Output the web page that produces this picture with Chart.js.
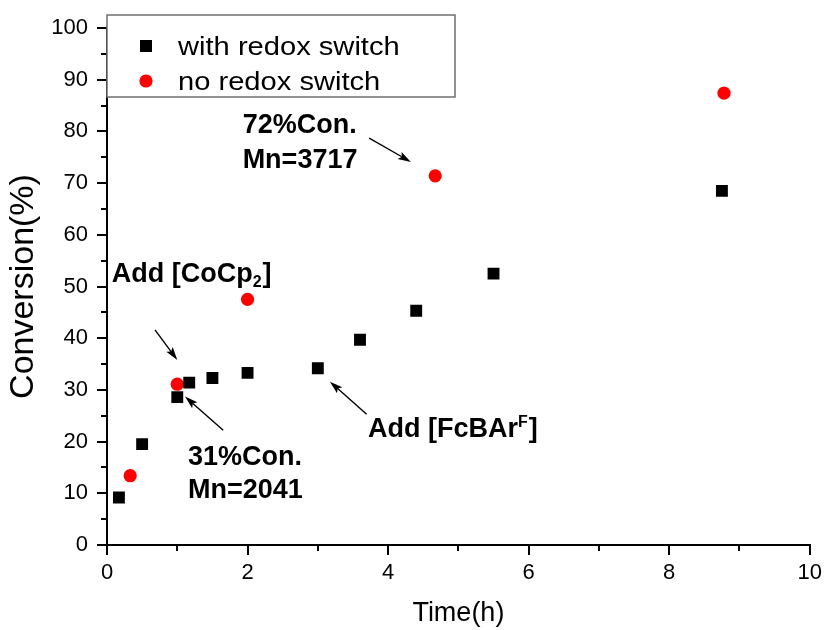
<!DOCTYPE html>
<html>
<head>
<meta charset="utf-8">
<script src="https://cdn.jsdelivr.net/npm/chart.js@4.4.1/dist/chart.umd.min.js"></script>
<style>
  html, body { margin: 0; padding: 0; background: #fff; }
  #wrap { width: 827px; height: 630px; }
</style>
</head>
<body>
<div id="wrap"><canvas id="chart" width="827" height="630"></canvas></div>
<script>
// data
const withX = [0.17, 0.5, 1.0, 1.17, 1.5, 2.0, 3.0, 3.6, 4.4, 5.5, 8.75];
const withY = [9.2, 19.5, 28.6, 31.4, 32.3, 33.3, 34.2, 39.7, 45.3, 52.5, 68.5];
const noX = [0.33, 1.0, 2.0, 4.67, 8.78];
const noY = [13.4, 31.1, 47.5, 71.4, 87.4];
const xTicks = [0, 2, 4, 6, 8, 10];
const yTicks = [0, 10, 20, 30, 40, 50, 60, 70, 80, 90, 100];
const seriesNames = ['with redox switch', 'no redox switch'];

// annotations (data coords), pieces: 0 normal, -1 subscript, 1 superscript
const noteParts = [
  [['Add [CoCp', 0], ['2', -1], [']', 0]],
  [['31%Con.', 0]],
  [['Mn=2041', 0]],
  [['Add [FcBAr', 0], ['F', 1], [']', 0]],
  [['72%Con.', 0]],
  [['Mn=3717', 0]]
];
const noteX = [0.067, 1.152, 1.152, 3.713, 1.93, 1.93];
const noteY = [50.9, 15.5, 9.1, 20.9, 79.6, 73.0];
const arrowFromX = [0.683, 1.654, 3.694, 3.731];
const arrowFromY = [41.6, 22.2, 25.3, 78.7];
const arrowToX = [1.0, 1.11, 3.172, 4.324];
const arrowToY = [35.8, 28.7, 31.6, 74.1];

const FONT = "'Liberation Sans', Arial, sans-serif";

const toPoints = (xs, ys) => xs.map((x, i) => ({ x: x, y: ys[i] }));

// minor ticks, annotations, legend box
const extras = {
  id: 'extras',
  afterDraw(chart) {
    const ctx = chart.ctx;
    const xs = chart.scales.x, ys = chart.scales.y;
    const area = chart.chartArea;
    ctx.save();
    ctx.strokeStyle = '#000';
    ctx.lineWidth = 2;
    ctx.beginPath();
    for (let v = 1; v < 10; v += 2) {
      const px = Math.round(xs.getPixelForValue(v));
      ctx.moveTo(px, area.bottom);
      ctx.lineTo(px, area.bottom + 6);
    }
    for (let v = 5; v < 100; v += 10) {
      const py = Math.round(ys.getPixelForValue(v));
      ctx.moveTo(area.left, py);
      ctx.lineTo(area.left - 6, py);
    }
    ctx.stroke();

    // text notes
    ctx.fillStyle = '#000';
    ctx.textBaseline = 'alphabetic';
    ctx.textAlign = 'left';
    noteParts.forEach((parts, i) => {
      let px = xs.getPixelForValue(noteX[i]);
      const py = ys.getPixelForValue(noteY[i]);
      parts.forEach(p => {
        const kind = p[1];
        ctx.font = 'bold ' + (kind === 0 ? 27 : 16) + 'px ' + FONT;
        const dy = kind === -1 ? 5 : (kind === 1 ? -10 : 0);
        ctx.fillText(p[0], px, py + dy);
        px += ctx.measureText(p[0]).width + (kind !== 0 ? 1 : 0);
      });
    });

    // arrows
    arrowFromX.forEach((fx, i) => {
      const x1 = xs.getPixelForValue(fx), y1 = ys.getPixelForValue(arrowFromY[i]);
      const x2 = xs.getPixelForValue(arrowToX[i]), y2 = ys.getPixelForValue(arrowToY[i]);
      const a = Math.atan2(y2 - y1, x2 - x1);
      const hl = 13, hw = 4;
      ctx.lineWidth = 1.4;
      ctx.beginPath();
      ctx.moveTo(x1, y1);
      ctx.lineTo(x2 - Math.cos(a) * hl * 0.8, y2 - Math.sin(a) * hl * 0.8);
      ctx.stroke();
      ctx.beginPath();
      ctx.moveTo(x2, y2);
      ctx.lineTo(x2 - Math.cos(a) * hl - Math.sin(a) * hw, y2 - Math.sin(a) * hl + Math.cos(a) * hw);
      ctx.lineTo(x2 - Math.cos(a) * hl * 0.8, y2 - Math.sin(a) * hl * 0.8);
      ctx.lineTo(x2 - Math.cos(a) * hl + Math.sin(a) * hw, y2 - Math.sin(a) * hl - Math.cos(a) * hw);
      ctx.closePath();
      ctx.fill();
    });

    // legend box
    const bx = area.left, by = 15, bw = 348, bh = 82;
    ctx.fillStyle = '#fff';
    ctx.fillRect(bx, by, bw, bh);
    ctx.strokeStyle = '#6e6e6e';
    ctx.lineWidth = 1.5;
    ctx.strokeRect(bx, by, bw, bh);
    ctx.font = '26px ' + FONT;
    chart.data.datasets.forEach((ds, i) => {
      const cy = by + 31 + i * 35;
      ctx.fillStyle = ds.backgroundColor;
      if (ds.pointStyle === 'rect') {
        ctx.fillRect(bx + 33, cy - 6, 12, 12);
      } else {
        ctx.beginPath();
        ctx.arc(bx + 39, cy, 6.6, 0, Math.PI * 2);
        ctx.fill();
      }
      ctx.fillStyle = '#000';
      ctx.save();
      ctx.translate(bx + 71, cy + 9);
      ctx.scale(1.12, 1);
      ctx.fillText(seriesNames[i], 0, 0);
      ctx.restore();
    });
    ctx.restore();
  }
};

new Chart(document.getElementById('chart'), {
  type: 'scatter',
  data: {
    datasets: [
      {
        label: seriesNames[0],
        data: toPoints(withX, withY),
        pointStyle: 'rect',
        pointRadius: 8.4,
        pointHoverRadius: 8.4,
        backgroundColor: '#000',
        borderColor: '#000',
        borderWidth: 0
      },
      {
        label: seriesNames[1],
        data: toPoints(noX, noY),
        pointStyle: 'circle',
        pointRadius: 6.6,
        pointHoverRadius: 6.6,
        backgroundColor: '#ff0000',
        borderColor: '#ff0000',
        borderWidth: 0
      }
    ]
  },
  options: {
    responsive: false,
    animation: false,
    layout: { padding: { top: 28, right: 17, left: 0, bottom: 0 } },
    plugins: { legend: { display: false }, tooltip: { enabled: false } },
    scales: {
      x: {
        type: 'linear',
        min: 0, max: 10,
        afterBuildTicks: s => { s.ticks = xTicks.map(v => ({ value: v })); },
        afterFit: s => { s.height = 85; },
        border: { color: '#000', width: 2 },
        grid: { drawOnChartArea: false, tickLength: 10, tickColor: '#000', lineWidth: 2 },
        ticks: { color: '#000', padding: 5, font: { family: FONT, size: 22 } },
        title: { display: true, text: 'Time(h)', color: '#000', padding: { bottom: 0 }, font: { family: FONT, size: 27 } }
      },
      y: {
        type: 'linear',
        min: 0, max: 100,
        afterBuildTicks: s => { s.ticks = yTicks.map(v => ({ value: v })); },
        afterFit: s => { s.width = 107; },
        border: { color: '#000', width: 2 },
        grid: { drawOnChartArea: false, tickLength: 10, tickColor: '#000', lineWidth: 2 },
        ticks: { color: '#000', padding: 9, font: { family: FONT, size: 22 } },
        title: { display: true, text: 'Conversion(%)', color: '#000', padding: { top: 3 }, font: { family: FONT, size: 34 } }
      }
    }
  },
  plugins: [extras]
});
</script>
</body>
</html>
